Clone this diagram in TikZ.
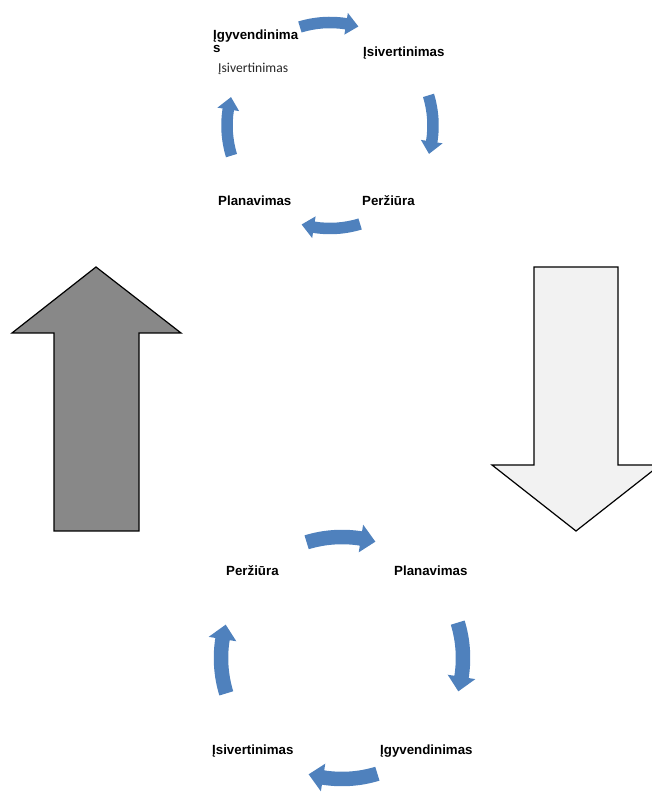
\documentclass[tikz,border=0pt]{standalone}
\usepackage{fontspec}
\setmainfont{Liberation Sans}
\newfontfamily\calibfont{Carlito}
\usetikzlibrary{calc}
\definecolor{cycblue}{HTML}{4F81BD}
\definecolor{upgray}{HTML}{888888}
\definecolor{downgray}{HTML}{F2F2F2}
% #1 cx, #2 cy, #3 r, #4 body width, #5 head width, #6 tail angle, #7 head base angle, #8 tip angle
\newcommand\cycarr[8]{%
  \fill[cycblue] ($(#1,#2)+(#6:{#3+#4/2})$)
    arc[start angle=#6,end angle=#7,radius={#3+#4/2}]
    -- ($(#1,#2)+(#7:{#3+#5/2})$)
    -- ($(#1,#2)+(#8:#3)$)
    -- ($(#1,#2)+(#7:{#3-#5/2})$)
    -- ($(#1,#2)+(#7:{#3-#4/2})$)
    arc[start angle=#7,end angle=#6,radius={#3-#4/2}]
    -- cycle;}
\tikzset{
  lbl/.style={font=\bfseries\fontsize{13.3}{12.7}\selectfont, inner sep=0pt, anchor=base west},
  small/.style={font=\calibfont\fontsize{13.6}{15}\selectfont, text=black!85, inner sep=0pt, anchor=base west},
  bigarrow/.style={draw=black, line width=1.2pt, line join=miter}
}
\begin{document}
\begin{tikzpicture}[x=1pt,y=1pt]
\useasboundingbox (0,0) rectangle (652,792);
\clip (0,0) rectangle (652,792);
% big arrows
\filldraw[bigarrow, fill=upgray] (96,525) -- (181,459) -- (139,459) -- (139,261) -- (54,261) -- (54,459) -- (12,459) -- cycle;
\filldraw[bigarrow, fill=downgray] (576,261) -- (660,327) -- (618,327) -- (618,525) -- (534,525) -- (534,327) -- (492,327) -- cycle;
% top cycle
\cycarr{330}{666.5}{103}{11.5}{22}{107}{81}{74}
\cycarr{330}{666.5}{103}{11.5}{22}{17}{-9}{-16}
\cycarr{330}{666.5}{103}{11.5}{22}{-73}{-99}{-106}
\cycarr{330}{666.5}{103}{11.5}{22}{197}{171}{164}
% bottom cycle
\cycarr{342}{134}{121}{14.5}{28}{107}{81}{74}
\cycarr{342}{134}{121}{14.5}{28}{17}{-9}{-16}
\cycarr{342}{134}{121}{14.5}{28}{-73}{-99}{-106}
\cycarr{342}{134}{121}{14.5}{28}{197}{171}{164}
% top cycle labels
\node[lbl] (tImpl) at (213,752.2) {\vtop{\hbox{Įgyvendinima}\hbox{s}}};
\node[small] (tImplSub) at (218,719.5) {Įsivertinimas};
\node[lbl] (tEval) at (363,735.5) {Įsivertinimas};
\node[lbl] (tPlan) at (218,586.5) {Planavimas};
\node[lbl] (tRev) at (362,586.5) {Peržiūra};
% bottom cycle labels
\node[lbl] (bRev) at (226,216.5) {Peržiūra};
\node[lbl] (bPlan) at (394,216.5) {Planavimas};
\node[lbl] (bEval) at (212,37.5) {Įsivertinimas};
\node[lbl] (bImpl) at (380,37.5) {Įgyvendinimas};
\end{tikzpicture}
\end{document}
